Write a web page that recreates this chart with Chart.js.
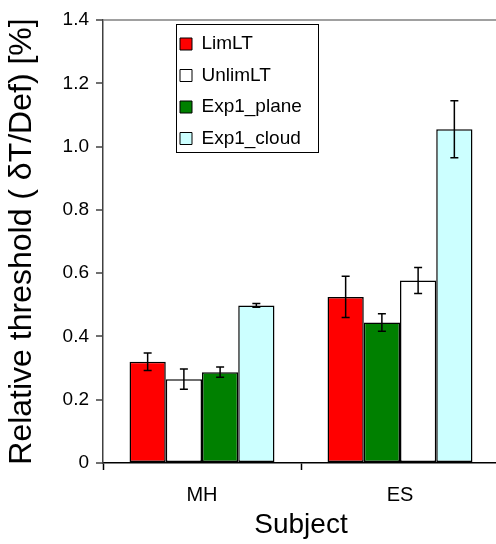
<!DOCTYPE html>
<html><head><meta charset="utf-8">
<script src="https://cdn.jsdelivr.net/npm/chart.js@4/dist/chart.umd.min.js"></script>
<style>html,body{margin:0;padding:0;background:#fff;overflow:hidden;}canvas{display:block;}</style>
</head><body>
<canvas id="c" width="500" height="544"></canvas>
<script>
const categories = ['MH', 'ES'];
const seriesNames = ['LimLT', 'UnlimLT', 'Exp1_plane', 'Exp1_cloud'];
const seriesColors = ['#FF0000', '#FFFFFF', '#008000', '#CCFFFF'];
const limLT = [0.32, 0.525];
const unlimLT = [0.265, 0.577];
const exp1Plane = [0.287, 0.444];
const exp1Cloud = [0.498, 1.055];
const limLTErr = [0.028, 0.065];
const unlimLTErr = [0.032, 0.041];
const exp1PlaneErr = [0.016, 0.028];
const exp1CloudErr = [0.006, 0.09];
// bar order inside each subject group (series index for each slot)
const slotOrder = [[0, 1, 2, 3], [0, 2, 1, 3]];
const yTicks = [0, 0.2, 0.4, 0.6, 0.8, 1.0, 1.2, 1.4];

const values = [limLT, unlimLT, exp1Plane, exp1Cloud];
const errors = [limLTErr, unlimLTErr, exp1PlaneErr, exp1CloudErr];
const FAMILY = '"Liberation Sans", Arial, Helvetica, sans-serif';
Chart.defaults.font.family = FAMILY;
Chart.defaults.color = '#000';

const datasets = [0, 1, 2, 3].map(slot => ({
  label: 'slot' + slot,
  data: categories.map((c, ci) => values[slotOrder[ci][slot]][ci]),
  errors: categories.map((c, ci) => errors[slotOrder[ci][slot]][ci]),
  backgroundColor: categories.map((c, ci) => seriesColors[slotOrder[ci][slot]]),
  borderColor: '#000',
  borderWidth: 1.5,
  borderSkipped: false
}));

const errorBars = {
  id: 'errorBars',
  afterDatasetsDraw(chart) {
    const ctx = chart.ctx, y = chart.scales.y;
    chart.data.datasets.forEach((ds, di) => {
      chart.getDatasetMeta(di).data.forEach((bar, i) => {
        const v = ds.data[i], e = ds.errors[i];
        const x = bar.x;
        const yt = y.getPixelForValue(v + e), yb = y.getPixelForValue(v - e);
        ctx.save();
        ctx.strokeStyle = '#000';
        ctx.lineWidth = 1.5;
        ctx.beginPath();
        ctx.moveTo(x, yt); ctx.lineTo(x, yb);
        ctx.moveTo(x - 4, yt); ctx.lineTo(x + 4, yt);
        ctx.moveTo(x - 4, yb); ctx.lineTo(x + 4, yb);
        ctx.stroke();
        ctx.restore();
      });
    });
  }
};

const legendPlace = {
  id: 'legendPlace',
  beforeDraw(chart) {
    const l = chart.legend;
    const w = l.width, h = l.height;
    l.left = 167.5; l.top = 22; l.right = l.left + w; l.bottom = l.top + h;
    const ctx = chart.ctx;
    ctx.save();
    ctx.fillStyle = '#fff';
    ctx.fillRect(176.5, 24.5, 142, 128);
    ctx.strokeStyle = '#000';
    ctx.lineWidth = 1;
    ctx.strokeRect(176.5, 24.5, 142, 128);
    ctx.restore();
  }
};

new Chart(document.getElementById('c'), {
  type: 'bar',
  data: { labels: categories, datasets },
  options: {
    responsive: false,
    animation: false,
    layout: { padding: { top: 20, right: 1, bottom: 0, left: 0 } },
    datasets: { bar: { categoryPercentage: 0.732, barPercentage: 1.0 } },
    plugins: {
      tooltip: { enabled: false },
      legend: {
        position: 'chartArea',
        align: 'start',
        onClick: null,
        labels: {
          boxWidth: 12, boxHeight: 12, padding: 12.5,
          font: { size: 19 }, color: '#000',
          generateLabels: () => seriesNames.map((n, i) => ({
            text: n, fillStyle: seriesColors[i], strokeStyle: '#000', lineWidth: 1, hidden: false, datasetIndex: i
          }))
        }
      }
    },
    scales: {
      x: {
        offset: true,
        grid: { offset: true, drawOnChartArea: false, tickLength: 7, tickColor: '#000', tickWidth: 1.5 },
        border: { color: '#000', width: 1.5 },
        ticks: { font: { size: 20 }, color: '#000', padding: 13 },
        title: { display: true, text: 'Subject', font: { size: 28 }, color: '#000', padding: { top: 0, bottom: 2 } },
        afterFit: s => { s.height = 81; }
      },
      y: {
        min: 0, max: 1.4,
        afterBuildTicks: s => { s.ticks = yTicks.map(v => ({ value: v })); },
        ticks: { font: { size: 19 }, color: '#000', padding: 7, callback: v => v === 0 ? '0' : Number(v).toFixed(1) },
        grid: {
          color: c => (c.tick && Math.abs(c.tick.value - 1.4) < 1e-9) ? '#a0a0a0' : 'rgba(0,0,0,0)',
          lineWidth: 2, tickColor: '#404040', tickWidth: 1.5, tickLength: 7, drawOnChartArea: true
        },
        border: { color: '#404040', width: 1.5 },
        title: { display: true, text: 'Relative threshold ( δT/Def) [%]', font: { size: 32 }, color: '#000', padding: { top: 3, bottom: 0 } },
        afterFit: s => { s.width = 103; }
      }
    }
  },
  plugins: [errorBars, legendPlace]
});
</script>
</body></html>
